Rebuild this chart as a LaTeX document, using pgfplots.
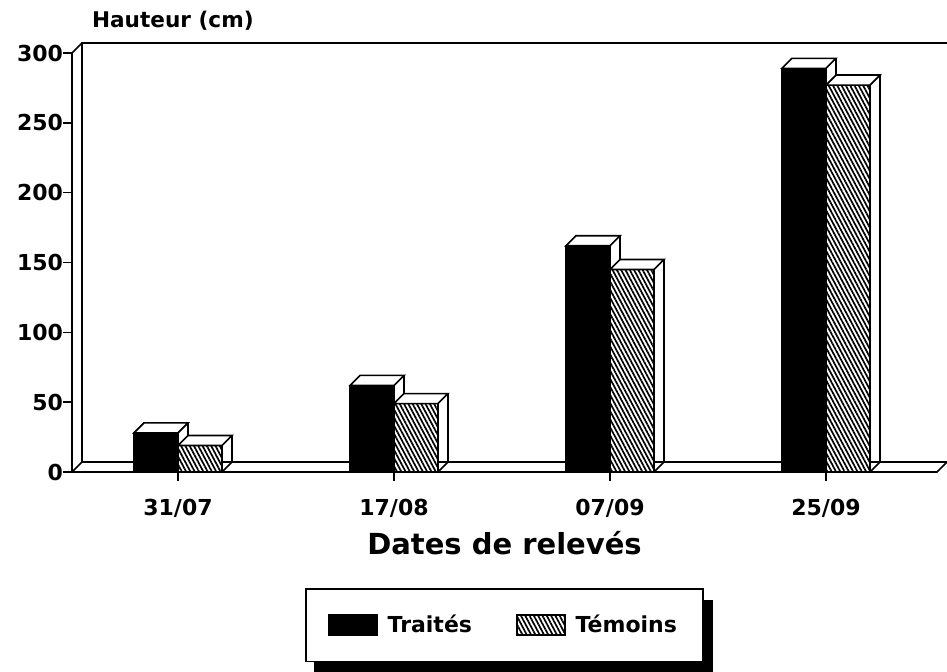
\documentclass[border=0pt]{standalone}
\usepackage{pgfplots}
\usepackage{pgfplotstable}
\pgfplotsset{compat=1.18}
\usepackage{fontspec}
\setmainfont{DejaVu Sans}
\usetikzlibrary{patterns.meta,backgrounds}

\pgfplotstableread{
x traites temoins base
0 28  19  0
1 62  49  0
2 162 145 0
3 289 277 0
}\datatable

\pgfdeclareplotmark{topblack}{%
  \pgfpathmoveto{\pgfpoint{-22pt}{0pt}}%
  \pgfpathlineto{\pgfpoint{0pt}{0pt}}%
  \pgfpathlineto{\pgfpoint{5pt}{5pt}}%
  \pgfpathlineto{\pgfpoint{-17pt}{5pt}}%
  \pgfpathclose
  \pgfusepathqfillstroke}
\pgfdeclareplotmark{tophatch}{%
  \pgfpathmoveto{\pgfpoint{0pt}{0pt}}%
  \pgfpathlineto{\pgfpoint{22pt}{0pt}}%
  \pgfpathlineto{\pgfpoint{27pt}{5pt}}%
  \pgfpathlineto{\pgfpoint{5pt}{5pt}}%
  \pgfpathclose
  \pgfusepathqfillstroke}
\pgfdeclareplotmark{diagbr}{%
  \pgfpathmoveto{\pgfpoint{22pt}{0pt}}%
  \pgfpathlineto{\pgfpoint{27pt}{5pt}}%
  \pgfusepathqstroke}

\tikzset{hatch/.style={fill=white, postaction={pattern={Lines[angle=-62, distance=1.9pt, line width=0.85pt]}}}}

\begin{document}
\begin{tikzpicture}
\begin{axis}[
  name=ax,
  scale only axis,
  width=432.5pt, height=209.5pt,
  xmin=-0.4907, xmax=3.5139,
  ymin=0, ymax=300,
  clip=false,
  axis x line=bottom, axis y line=left,
  axis line style={-, line width=0.8pt, black},
  tick style={line width=0.8pt, black},
  tick align=outside,
  major tick length=4.5pt,
  xtick={0,1,2,3},
  xticklabels={31/07,17/08,07/09,25/09},
  ytick={0,50,100,150,200,250,300},
  /pgf/number format/assume math mode=true,
  ticklabel style={font=\bfseries\fontsize{11}{13}\selectfont},
  xticklabel style={yshift=-5.5pt},
  yticklabel style={xshift=3.5pt},
  xlabel={Dates de relevés},
  xlabel style={at={(rel axis cs:0.5,0)}, anchor=center, yshift=-35.5pt,
    font=\bfseries\fontsize{14.5}{17}\selectfont},
  legend columns=2,
  legend style={name=leg, at={(rel axis cs:0.5,0)}, anchor=north, yshift=-58pt,
    draw=black, fill=white, line width=0.8pt,
    inner xsep=11pt, inner ysep=11pt,
    font=\bfseries\fontsize{11}{13}\selectfont,
    /tikz/every odd column/.append style={column sep=3pt},
    /tikz/every even column/.append style={column sep=20pt}},
  legend image code/.code={\draw[#1] (0pt,-5pt) rectangle (24pt,5pt);},
]
% back wall and floor
\draw[line width=0.8pt] (rel axis cs:0,0) -- ++(5pt,5pt) -- ([xshift=5pt,yshift=5pt]rel axis cs:0,1) -- ([xshift=5pt,yshift=5pt]rel axis cs:1,1);
\draw[line width=0.8pt] (rel axis cs:0,1) -- ++(5pt,5pt);
\draw[line width=0.8pt] ([xshift=5pt,yshift=5pt]rel axis cs:0,0) -- ([xshift=5pt,yshift=5pt]rel axis cs:1,0) -- (rel axis cs:1,0) -- (rel axis cs:0,0);

% back faces
\addplot[forget plot, ybar, bar width=22pt, bar shift=-11pt, xshift=5pt, yshift=5pt,
  fill=white, draw=black, line width=0.8pt] table[x=x, y=traites] {\datatable};
\addplot[forget plot, ybar, bar width=22pt, bar shift=11pt, xshift=5pt, yshift=5pt,
  fill=white, draw=black, line width=0.8pt] table[x=x, y=temoins] {\datatable};
% front faces
\addplot[ybar, bar width=22pt, bar shift=-11pt, fill=black, draw=black, line width=0.8pt]
  table[x=x, y=traites] {\datatable};
\addlegendentry{Traités}
\addplot[ybar, bar width=22pt, bar shift=11pt, hatch, draw=black, line width=0.8pt]
  table[x=x, y=temoins] {\datatable};
\addlegendentry{Témoins}
% top faces
\addplot[forget plot, only marks, mark=topblack, mark options={fill=white, draw=black, line width=0.8pt}]
  table[x=x, y=traites] {\datatable};
\addplot[forget plot, only marks, mark=tophatch, mark options={fill=white, draw=black, line width=0.8pt}]
  table[x=x, y=temoins] {\datatable};
\addplot[forget plot, only marks, mark=diagbr, mark options={draw=black, line width=0.8pt}]
  table[x=x, y=base] {\datatable};

\node[anchor=west, xshift=6.5pt, yshift=16pt, font=\bfseries\fontsize{10.8}{12}\selectfont]
  at (rel axis cs:0,1) {Hauteur (cm)};
\end{axis}
\begin{scope}[on background layer]
\fill[black] ([xshift=4.5pt,yshift=-6pt]leg.south west) rectangle ([xshift=4.5pt,yshift=-6pt]leg.north east);
\end{scope}
\pgfresetboundingbox
\path[use as bounding box] (ax.south west) ++(-36pt,-100pt) rectangle ++(473.5pt,336pt);
\end{tikzpicture}
\end{document}
